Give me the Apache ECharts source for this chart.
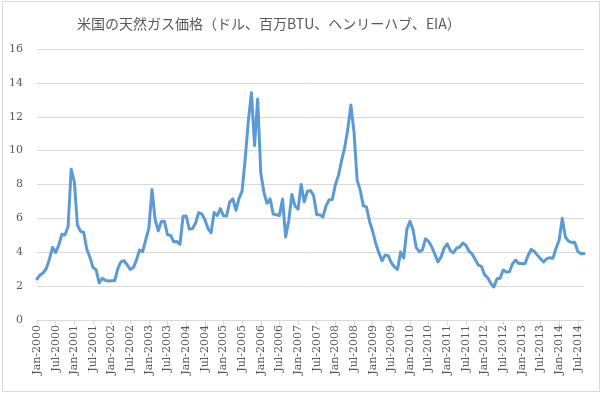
<!DOCTYPE html>
<html>
<head>
<meta charset="utf-8">
<script src="https://cdn.jsdelivr.net/npm/echarts@6/dist/echarts.min.js"></script>
<style>
html,body{margin:0;padding:0;background:#fff;}
#chart{width:604px;height:398px;}
</style>
</head>
<body>
<div id="chart"></div>
<script>
// Tick label pieces
var monthNames = ['Jan','Feb','Mar','Apr','May','Jun','Jul','Aug','Sep','Oct','Nov','Dec'];
var years = [2000,2001,2002,2003,2004,2005,2006,2007,2008,2009,2010,2011,2012,2013,2014];

// Henry Hub monthly prices ($/MMBtu)
var p2000 = [2.42,2.66,2.79,3.04,3.59,4.29,3.99,4.43,5.06,5.02,5.52,8.90];
var p2001 = [8.17,5.61,5.23,5.19,4.19,3.72,3.11,2.97,2.19,2.46,2.34,2.30];
var p2002 = [2.32,2.32,3.03,3.43,3.50,3.26,2.99,3.09,3.55,4.13,4.04,4.74];
var p2003 = [5.43,7.71,5.93,5.26,5.81,5.82,5.03,4.99,4.62,4.63,4.47,6.13];
var p2004 = [6.14,5.37,5.39,5.71,6.33,6.27,5.93,5.41,5.15,6.35,6.17,6.58];
var p2005 = [6.15,6.14,6.96,7.16,6.47,7.18,7.63,9.53,11.75,13.42,10.30,13.05];
var p2006 = [8.69,7.54,6.89,7.16,6.25,6.21,6.17,7.14,4.90,5.85,7.41,6.73];
var p2007 = [6.55,8.00,6.97,7.60,7.64,7.35,6.22,6.22,6.08,6.74,7.10,7.11];
var p2008 = [7.99,8.54,9.41,10.18,11.27,12.69,11.09,8.26,7.67,6.74,6.68,5.82];
var p2009 = [5.24,4.52,3.96,3.50,3.83,3.80,3.38,3.14,2.99,4.01,3.66,5.35];
var p2010 = [5.83,5.32,4.29,4.03,4.14,4.80,4.63,4.32,3.89,3.43,3.71,4.25];
var p2011 = [4.49,4.09,3.97,4.24,4.31,4.54,4.42,4.06,3.90,3.57,3.24,3.17];
var p2012 = [2.67,2.50,2.17,1.95,2.43,2.46,2.95,2.84,2.85,3.32,3.54,3.34];
var p2013 = [3.33,3.33,3.81,4.17,4.04,3.83,3.62,3.43,3.62,3.68,3.64,4.24];
var p2014 = [4.71,6.00,4.90,4.66,4.58,4.59,4.05,3.91,3.92];

var yearly = [p2000,p2001,p2002,p2003,p2004,p2005,p2006,p2007,p2008,p2009,p2010,p2011,p2012,p2013,p2014];

var categories = [];
var values = [];
for (var i = 0; i < years.length; i++) {
  for (var m = 0; m < yearly[i].length; m++) {
    categories.push(monthNames[m] + '-' + years[i]);
    values.push(yearly[i][m]);
  }
}

var chart = echarts.init(document.getElementById('chart'), null, {renderer: 'canvas'});
chart.setOption({
  animation: false,
  backgroundColor: '#ffffff',
  title: {
    text: '米国の天然ガス価格（ドル、百万BTU、ヘンリーハブ、EIA）',
    left: 72,
    top: 12,
    textStyle: {
      fontFamily: '"Noto Sans CJK JP", sans-serif',
      fontSize: 14,
      fontWeight: 'normal',
      color: '#595959'
    }
  },
  graphic: [{
    type: 'rect',
    shape: {x: 2.5, y: 1.5, width: 597, height: 390},
    style: {fill: 'none', stroke: '#d9d9d9', lineWidth: 1},
    silent: true
  }],
  grid: {left: 37, right: 20, top: 49, bottom: 78, containLabel: false},
  xAxis: {
    type: 'category',
    data: categories,
    boundaryGap: false,
    axisLine: {lineStyle: {color: '#d9d9d9', width: 1}},
    axisTick: {show: true, interval: 5, length: 5, lineStyle: {color: '#d9d9d9'}},
    axisLabel: {
      interval: 5,
      rotate: 90,
      margin: 5,
      fontFamily: '"DejaVu Serif", serif',
      fontSize: 11,
      color: '#595959'
    },
    splitLine: {show: false}
  },
  yAxis: {
    type: 'value',
    min: 0,
    max: 16,
    interval: 2,
    axisLine: {show: false},
    axisTick: {show: false},
    axisLabel: {
      margin: 14,
      fontFamily: '"DejaVu Serif", serif',
      fontSize: 11,
      color: '#595959'
    },
    splitLine: {lineStyle: {color: '#d9d9d9', width: 1}}
  },
  series: [{
    type: 'line',
    data: values,
    showSymbol: false,
    symbol: 'none',
    lineStyle: {color: '#5b9bd5', width: 3, join: 'round', cap: 'round'},
    itemStyle: {color: '#5b9bd5'}
  }]
});
</script>
</body>
</html>
